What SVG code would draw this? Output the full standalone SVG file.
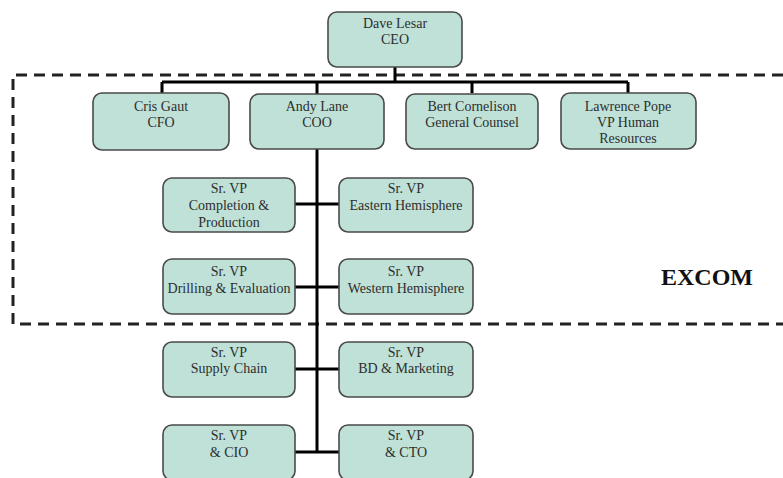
<svg xmlns="http://www.w3.org/2000/svg" width="783" height="478" viewBox="0 0 783 478">
<style>
.box{fill:#bfe1d7;stroke:#4a4a4a;stroke-width:1.6}
.t{font-family:"Liberation Serif","Times New Roman",serif;font-size:14px;fill:#2e2e2e;text-anchor:middle}
.c{fill:none;stroke:#000;stroke-width:3}
.d{fill:none;stroke:#222;stroke-width:3;stroke-dasharray:11 7}
</style>
<rect width="783" height="478" fill="#fff"/>
<path class="d" d="M783,75 H13 V324 H783"/>
<g id="connectors">
<path class="c" d="M395,67 V82 M162,82 H628 M162,82 V93 M317,82 V94 M472,82 V93 M628,82 V93"/>
<path class="c" d="M317,149 V452 M295,204 H339 M295,287 H339 M295,369 H339 M295,452 H339"/>
</g>
<g id="ceo"><rect class="box" x="328" y="12" width="134" height="55" rx="9"/><text class="t" x="395" y="28">Dave Lesar</text><text class="t" x="395" y="44">CEO</text></g>
<g id="cfo"><rect class="box" x="93" y="93" width="136" height="57" rx="9"/><text class="t" x="161" y="111">Cris Gaut</text><text class="t" x="161" y="127">CFO</text></g>
<g id="coo"><rect class="box" x="250" y="94" width="134" height="55" rx="9"/><text class="t" x="317" y="111">Andy Lane</text><text class="t" x="317" y="127">COO</text></g>
<g id="gc"><rect class="box" x="406" y="94" width="132" height="55" rx="9"/><text class="t" x="472" y="111">Bert Cornelison</text><text class="t" x="472" y="127">General Counsel</text></g>
<g id="hr"><rect class="box" x="561" y="93" width="135" height="56" rx="9"/><text class="t" x="628" y="111">Lawrence Pope</text><text class="t" x="628" y="127">VP Human</text><text class="t" x="628" y="143">Resources</text></g>
<g id="completion"><rect class="box" x="163" y="178" width="132" height="54" rx="9"/><text class="t" x="229" y="193">Sr. VP</text><text class="t" x="229" y="210">Completion &amp;</text><text class="t" x="229" y="227">Production</text></g>
<g id="eastern"><rect class="box" x="339" y="178" width="134" height="54" rx="9"/><text class="t" x="406" y="193">Sr. VP</text><text class="t" x="406" y="210">Eastern Hemisphere</text></g>
<g id="drilling"><rect class="box" x="163" y="259" width="132" height="55" rx="9"/><text class="t" x="229" y="276">Sr. VP</text><text class="t" x="229" y="293">Drilling &amp; Evaluation</text></g>
<g id="western"><rect class="box" x="339" y="259" width="134" height="55" rx="9"/><text class="t" x="406" y="276">Sr. VP</text><text class="t" x="406" y="293">Western Hemisphere</text></g>
<g id="supply"><rect class="box" x="163" y="342" width="132" height="55" rx="9"/><text class="t" x="229" y="357">Sr. VP</text><text class="t" x="229" y="373">Supply Chain</text></g>
<g id="bd"><rect class="box" x="339" y="342" width="134" height="55" rx="9"/><text class="t" x="406" y="357">Sr. VP</text><text class="t" x="406" y="373">BD &amp; Marketing</text></g>
<g id="cio"><rect class="box" x="163" y="425" width="132" height="55" rx="9"/><text class="t" x="229" y="440">Sr. VP</text><text class="t" x="229" y="457">&amp; CIO</text></g>
<g id="cto"><rect class="box" x="339" y="425" width="134" height="55" rx="9"/><text class="t" x="406" y="440">Sr. VP</text><text class="t" x="406" y="457">&amp; CTO</text></g>
<text x="707" y="285" font-family="'Liberation Serif','Times New Roman',serif" font-size="24" font-weight="bold" text-anchor="middle" fill="#111">EXCOM</text>
</svg>
